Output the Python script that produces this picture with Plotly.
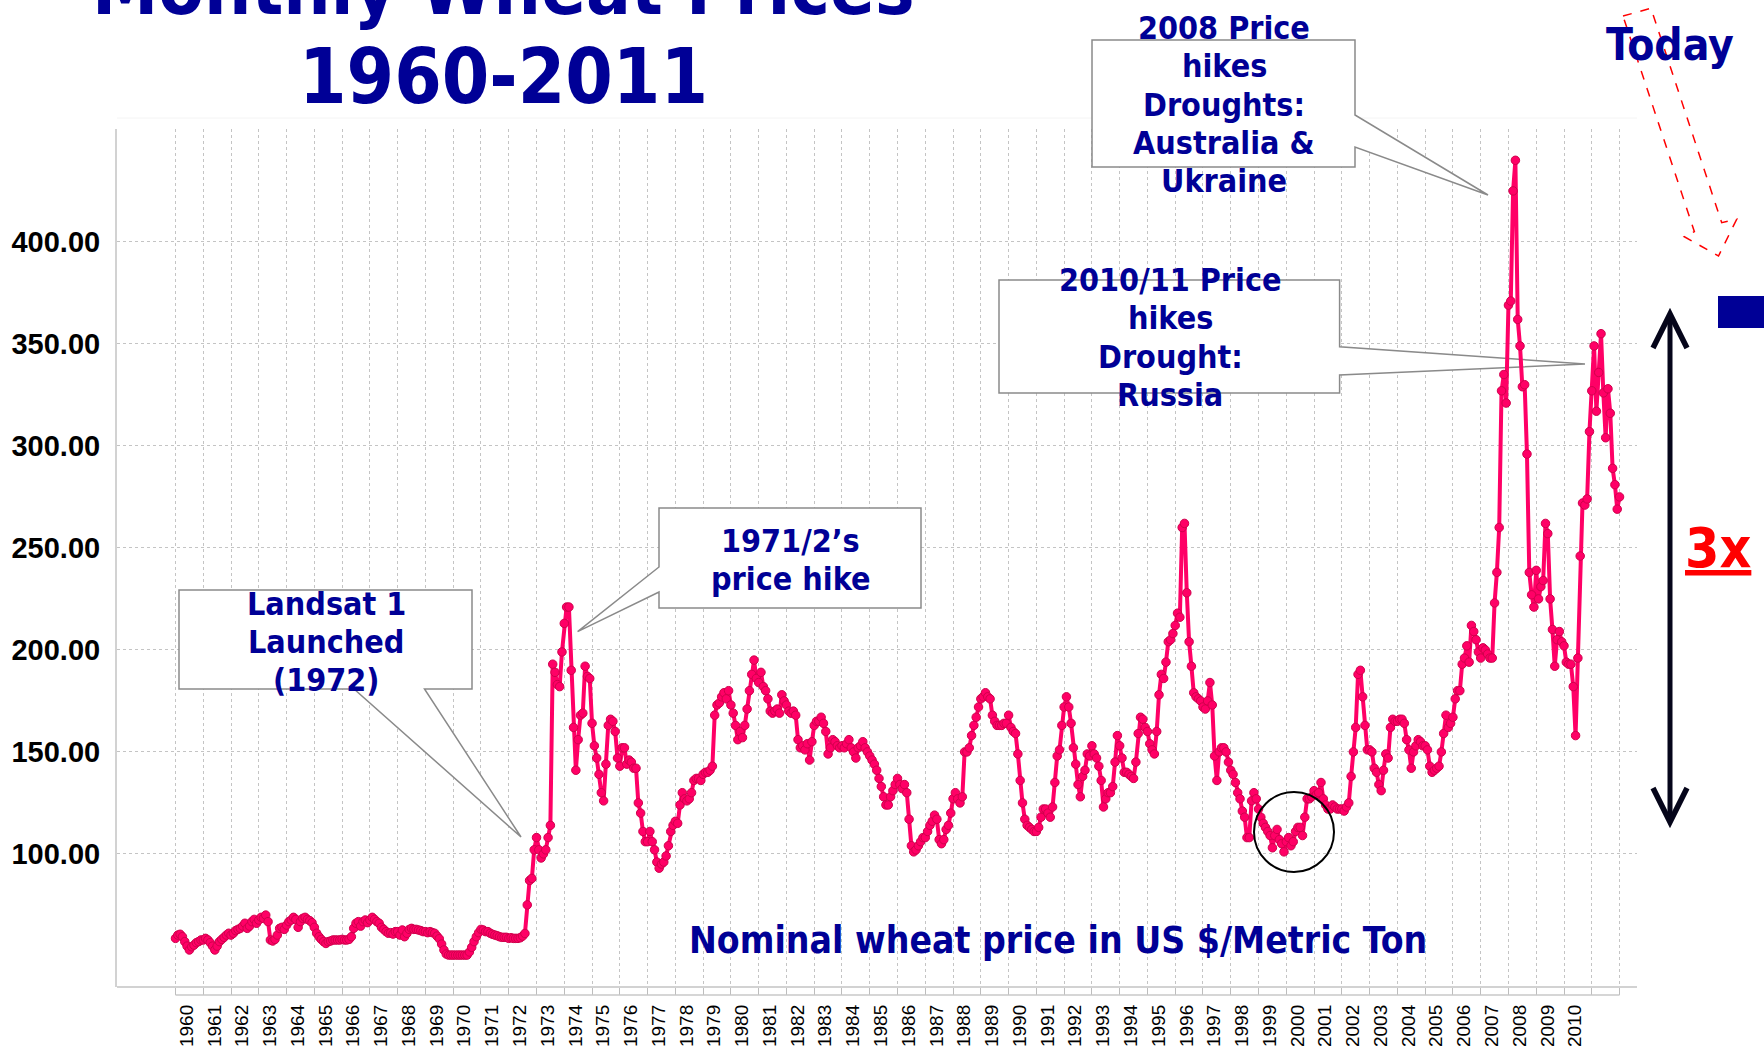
import plotly.graph_objects as go

# ---------------------------------------------------------------------------
# Monthly nominal wheat price, US $ per metric ton (Jan 1960 - Jan 2012)
# ---------------------------------------------------------------------------
START_YEAR = 1960

price_1960s = [
    58.6, 60.2, 60.6, 59.4, 57.0, 54.8, 52.9, 54.5, 55.3, 56.5, 57.0, 57.8,   # 1960
    57.8, 58.6, 57.8, 56.5, 54.8, 52.9, 54.8, 57.0, 58.1, 59.1, 60.2, 61.1,   # 1961
    60.2, 61.1, 62.4, 63.0, 63.5, 64.6, 66.0, 63.5, 64.6, 66.8, 67.9, 66.0,   # 1962
    67.6, 68.9, 68.4, 70.0, 66.8, 57.8, 57.3, 58.1, 60.2, 63.5, 64.0, 63.0,   # 1963
    65.1, 66.8, 67.6, 68.9, 67.9, 64.0, 66.8, 68.4, 68.9, 67.9, 67.3, 66.3,   # 1964
    64.0, 61.1, 59.4, 58.1, 57.0, 56.1, 57.0, 57.3, 57.8, 57.8, 57.8, 57.8,   # 1965
    58.1, 57.8, 57.8, 58.1, 59.4, 63.5, 66.0, 66.8, 64.6, 66.8, 67.6, 66.3,   # 1966
    67.6, 68.9, 67.9, 66.8, 66.0, 64.0, 63.0, 61.9, 61.1, 61.4, 60.7, 61.9,   # 1967
    61.9, 60.2, 62.7, 59.4, 61.1, 63.0, 63.5, 63.0, 63.0, 62.7, 62.4, 61.9,   # 1968
    61.9, 61.4, 61.9, 61.4, 61.1, 59.7, 58.4, 55.8, 52.9, 50.9, 50.4, 50.4,   # 1969
]
price_1970s = [
    50.4, 50.4, 50.4, 50.4, 50.4, 50.4, 50.4, 51.9, 54.2, 57.0, 59.4, 61.4,   # 1970
    63.0, 62.7, 61.9, 61.9, 61.1, 60.6, 60.2, 59.9, 59.4, 59.1, 59.1, 59.1,   # 1971
    58.6, 58.9, 58.6, 58.6, 58.6, 58.9, 59.7, 61.0, 75.0, 87.0, 88.0, 102,    # 1972
    108, 102, 98, 100, 102, 108, 114, 193, 189, 183, 182, 199,                # 1973
    213, 221, 221, 190, 162, 141, 156, 168, 169, 192, 187, 186,               # 1974
    164, 153, 147, 139, 130, 126, 144, 163, 166, 165, 160, 147,               # 1975
    143, 152, 152, 144, 146, 145, 142, 142, 125, 120, 111, 106,               # 1976
    106, 111, 106, 102, 96, 93, 95, 96, 99, 104, 111, 114,                    # 1977
    116, 115, 124, 130, 127, 126, 127, 130, 136, 137, 137, 136,               # 1978
    139, 140, 140, 141, 143, 168, 173, 174, 177, 179, 176, 180,               # 1979
]
price_1980s = [
    173, 169, 163, 156, 160, 157, 163, 171, 180, 188, 195, 186,               # 1980
    184, 189, 182, 180, 176, 170, 169, 170, 171, 169, 178, 175,               # 1981
    173, 170, 169, 170, 168, 156, 152, 153, 151, 154, 146, 155,               # 1982
    163, 165, 165, 167, 164, 160, 149, 152, 156, 155, 153, 152,               # 1983
    153, 152, 154, 156, 152, 150, 147, 152, 153, 155, 152, 150,               # 1984
    148, 146, 144, 141, 137, 133, 128, 124, 124, 128, 131, 134,               # 1985
    137, 134, 132, 134, 130, 117, 104, 101, 102, 104, 106, 108,               # 1986
    108, 111, 114, 116, 119, 117, 107, 105, 107, 112, 114, 120,               # 1987
    127, 130, 127, 125, 128, 150, 150, 152, 158, 163, 167, 172,               # 1988
    176, 177, 179, 177, 176, 168, 165, 163, 163, 163, 164, 164,               # 1989
]
price_1990s = [
    168, 162, 160, 159, 149, 136, 125, 117, 114, 113, 112, 111,               # 1990
    111, 113, 118, 122, 122, 120, 118, 123, 135, 148, 151, 163,               # 1991
    172, 177, 172, 164, 152, 144, 134, 128, 138, 141, 149, 148,               # 1992
    153, 149, 147, 143, 136, 123, 127, 130, 130, 133, 145, 158,               # 1993
    153, 147, 140, 140, 139, 138, 137, 145, 159, 167, 166, 162,               # 1994
    160, 154, 151, 149, 160, 178, 188, 186, 194, 204, 205, 208,               # 1995
    212, 218, 216, 260, 262, 228, 204, 192, 179, 177, 176, 175,               # 1996
    172, 171, 175, 184, 173, 148, 136, 150, 152, 152, 150, 145,               # 1997
    141, 139, 135, 130, 127, 121, 118, 108, 108, 126, 130, 127,               # 1998
    122, 118, 115, 113, 111, 109, 103, 109, 112, 107, 105, 101,               # 1999
]
price_2000s = [
    106, 108, 104, 106, 111, 113, 113, 109, 118, 127, 127, 128,               # 2000
    131, 129, 130, 135, 127, 124, 122, 122, 124, 123, 122, 122,               # 2001
    122, 121, 123, 125, 138, 150, 162, 188, 190, 177, 163, 151,               # 2002
    151, 150, 142, 140, 134, 131, 141, 149, 147, 162, 166, 165,               # 2003
    165, 166, 166, 164, 156, 151, 142, 150, 153, 156, 155, 153,               # 2004
    153, 151, 143, 140, 141, 142, 143, 150, 159, 168, 162, 164,               # 2005
    167, 176, 180, 180, 193, 196, 202, 194, 212, 209, 205, 199,               # 2006
    196, 201, 200, 198, 196, 196, 223, 238, 260, 327, 335, 321,               # 2007
    369, 371, 425, 440, 362, 349, 329, 330, 296, 238, 227, 221,               # 2008
    239, 225, 231, 234, 262, 257, 225, 210, 192, 205, 209, 204,               # 2009
]
price_2010s = [
    202, 194, 193, 193, 182, 158, 196, 246, 272, 271, 274, 307,               # 2010
    327, 349, 317, 336, 355, 326, 304, 328, 316, 289, 281, 269,               # 2011
    275,                                                                      # 2012
]

year_labels = [str(y) for y in range(1960, 2011)]
year_bounds = list(range(1960, 2013))
price_ticks = [100, 150, 200, 250, 300, 350, 400]
price_tick_text = [f"{v:.2f}" for v in price_ticks]

prices = price_1960s + price_1970s + price_1980s + price_1990s + price_2000s + price_2010s
months = [START_YEAR + i / 12 for i in range(len(prices))]

# ---------------------------------------------------------------------------
# Page geometry (pixels) and helpers
# ---------------------------------------------------------------------------
W, H = 1764, 1055
PL, PR, PT, PB = 117, 1637, 129, 995      # plotting rectangle
FRAME_BOTTOM = 987                         # bottom of the value area
PX_PER_YEAR = 27.77
X_1960 = 175.5
PX_PER_UNIT = 2.04
Y_100 = 853.9


def year_at(px):
    return START_YEAR + (px - X_1960) / PX_PER_YEAR


def value_at(py):
    return 100 + (Y_100 - py) / PX_PER_UNIT


def paper_x(px):
    return (px - PL) / (PR - PL)


def paper_y(py):
    return (PB - py) / (PB - PT)


NAVY = "#000096"
PINK = "#ff0066"
BOX_LINE = "#8a8a8a"
GRID = "#c4c4c4"
TEXT_FONT = "DejaVu Sans Condensed, Liberation Sans Narrow, DejaVu Sans, sans-serif"

fig = go.Figure()
fig.add_trace(go.Scatter(
    x=months, y=prices, mode="lines+markers",
    line=dict(color=PINK, width=4),
    marker=dict(size=8.5, color=PINK, line=dict(color="#d0004c", width=1)),
    hoverinfo="x+y",
))

fig.update_layout(
    width=W, height=H,
    margin=dict(l=PL, r=W - PR, t=PT, b=H - PB, autoexpand=False),
    paper_bgcolor="white", plot_bgcolor="white",
    showlegend=False,
    xaxis=dict(
        range=[year_at(PL), year_at(PR)],
        anchor="free", position=0, automargin=False,
        tickmode="array",
        tickvals=[y + 0.4 for y in range(1960, 2011)],
        ticktext=year_labels,
        tickangle=-90,
        ticks="",
        ticklabelstandoff=5,
        showgrid=False, zeroline=False, showline=False,
        tickfont=dict(family="Liberation Sans, Arial, sans-serif", size=19, color="black"),
        minor=dict(
            tickmode="array", tickvals=year_bounds,
            ticks="inside", ticklen=7, tickcolor="#bdbdbd", tickwidth=1,
            showgrid=True, gridcolor=GRID, griddash="dot", gridwidth=1,
        ),
    ),
    yaxis=dict(
        domain=[(PB - FRAME_BOTTOM) / (PB - PT), 1],
        range=[value_at(FRAME_BOTTOM), value_at(PT)],
        automargin=False,
        tickmode="array", tickvals=price_ticks, ticktext=price_tick_text,
        ticks="", ticklabelstandoff=9,
        showgrid=True, gridcolor=GRID, griddash="dot", gridwidth=1,
        zeroline=False,
        showline=True, linecolor="#d2d2d2", linewidth=2,
        tickfont=dict(family="Liberation Sans, Arial, sans-serif", size=29,
                      color="black", weight="bold"),
    ),
)

shapes = []

# frame lines around the value area and the separate category axis line
shapes.append(dict(type="line", xref="paper", yref="paper",
                   x0=0, x1=1, y0=paper_y(FRAME_BOTTOM), y1=paper_y(FRAME_BOTTOM),
                   line=dict(color="#d2d2d2", width=2), layer="above"))
shapes.append(dict(type="line", xref="paper", yref="paper",
                   x0=0, x1=1, y0=paper_y(118), y1=paper_y(118),
                   line=dict(color="#f4f4f4", width=1), layer="below"))
shapes.append(dict(type="line", xref="x", yref="paper",
                   x0=year_bounds[0], x1=year_bounds[-1], y0=0, y1=0,
                   line=dict(color="#c8c8c8", width=1.5), layer="above"))


def callout_path(points, to_data):
    parts = []
    for i, (px, py) in enumerate(points):
        if to_data:
            x, y = year_at(px), value_at(py)
        else:
            x, y = paper_x(px), paper_y(py)
        parts.append(("M" if i == 0 else "L") + f"{x:.5f},{y:.5f}")
    return " ".join(parts) + " Z"


# callout boxes with their pointers
landsat_pts = [(179, 590), (472, 590), (472, 689), (424.5, 689), (521, 837),
               (354, 689), (179, 689)]
hike72_pts = [(659, 508), (921, 508), (921, 608), (659, 608), (659, 592),
              (577.6, 631.7), (659, 567)]
hike10_pts = [(999, 280), (1339.6, 280), (1339.6, 346.7), (1585, 364),
              (1339.6, 375), (1339.6, 393), (999, 393)]
hike08_pts = [(1092, 40), (1355, 40), (1355, 115), (1488, 195), (1355, 147),
              (1355, 167), (1092, 167)]

for pts in (landsat_pts, hike72_pts, hike10_pts):
    shapes.append(dict(type="path", xref="x", yref="y",
                       path=callout_path(pts, True),
                       fillcolor="white", line=dict(color=BOX_LINE, width=1.5),
                       layer="between"))
shapes.append(dict(type="path", xref="paper", yref="paper",
                   path=callout_path(hike08_pts, False),
                   fillcolor="white", line=dict(color=BOX_LINE, width=1.5),
                   layer="above"))

# circle around the 1999/2000 low
shapes.append(dict(type="circle", xref="paper", yref="paper",
                   x0=paper_x(1254), x1=paper_x(1334),
                   y0=paper_y(872), y1=paper_y(792),
                   line=dict(color="black", width=2), layer="above"))

# black double-headed arrow
AX = 1670
shapes.append(dict(type="line", xref="paper", yref="paper",
                   x0=paper_x(AX), x1=paper_x(AX), y0=paper_y(318), y1=paper_y(818),
                   line=dict(color="#05051a", width=5), layer="above"))
for tip, wing in ((314, 348), (822, 788)):
    shapes.append(dict(
        type="path", xref="paper", yref="paper",
        path=(f"M{paper_x(AX - 17):.5f},{paper_y(wing):.5f} "
              f"L{paper_x(AX):.5f},{paper_y(tip):.5f} "
              f"L{paper_x(AX + 17):.5f},{paper_y(wing):.5f}"),
        line=dict(color="#05051a", width=5.5), layer="above"))

# dashed hollow arrow next to "Today"
today_arrow = [(1623, 16), (1651, 8.3), (1721.7, 222.7), (1736.7, 219.3),
               (1718.5, 256), (1684.3, 236.7), (1694.4, 231.7)]
shapes.append(dict(type="path", xref="paper", yref="paper",
                   path=callout_path(today_arrow, False),
                   line=dict(color="#ff0000", width=1.5, dash="dash"),
                   layer="above"))

# navy marker block at the right edge
shapes.append(dict(type="rect", xref="paper", yref="paper",
                   x0=paper_x(1718), x1=paper_x(1770),
                   y0=paper_y(328), y1=paper_y(296),
                   fillcolor=NAVY, line=dict(width=0), layer="above"))

fig.update_layout(shapes=shapes)


def label(text, cx, cy, size, color=NAVY):
    fig.add_annotation(
        text=text, xref="paper", yref="paper",
        x=paper_x(cx), y=paper_y(cy), xanchor="center", yanchor="middle",
        showarrow=False, align="center",
        font=dict(family=TEXT_FONT, size=size, color=color),
    )


def stacked(lines, cx, first_cy, step, size):
    for i, line in enumerate(lines):
        label(f"<b>{line}</b>", cx, first_cy + i * step, size)


label("<b>Monthly Wheat Prices</b>", 503, -12, 74)
label("<b>1960-2011</b>", 503, 77, 76)
stacked(["Landsat 1", "Launched", "(1972)"], 326, 604, 37.8, 32)
stacked(["1971/2\u2019s", "price hike"], 790, 541, 38, 32)
stacked(["2008 Price", "hikes", "Droughts:", "Australia &amp;", "Ukraine"],
        1224, 28, 38.3, 32)
stacked(["2010/11 Price", "hikes", "Drought:", "Russia"], 1170, 280, 38.3, 32)
label("<b>Nominal wheat price in US $/Metric Ton</b>", 1058, 940, 37)
label("<b>Today</b>", 1670, 44, 44)
label("<b><u>3x</u></b>", 1718, 548, 55, color="#ff0000")

fig.write_html("out.html")
